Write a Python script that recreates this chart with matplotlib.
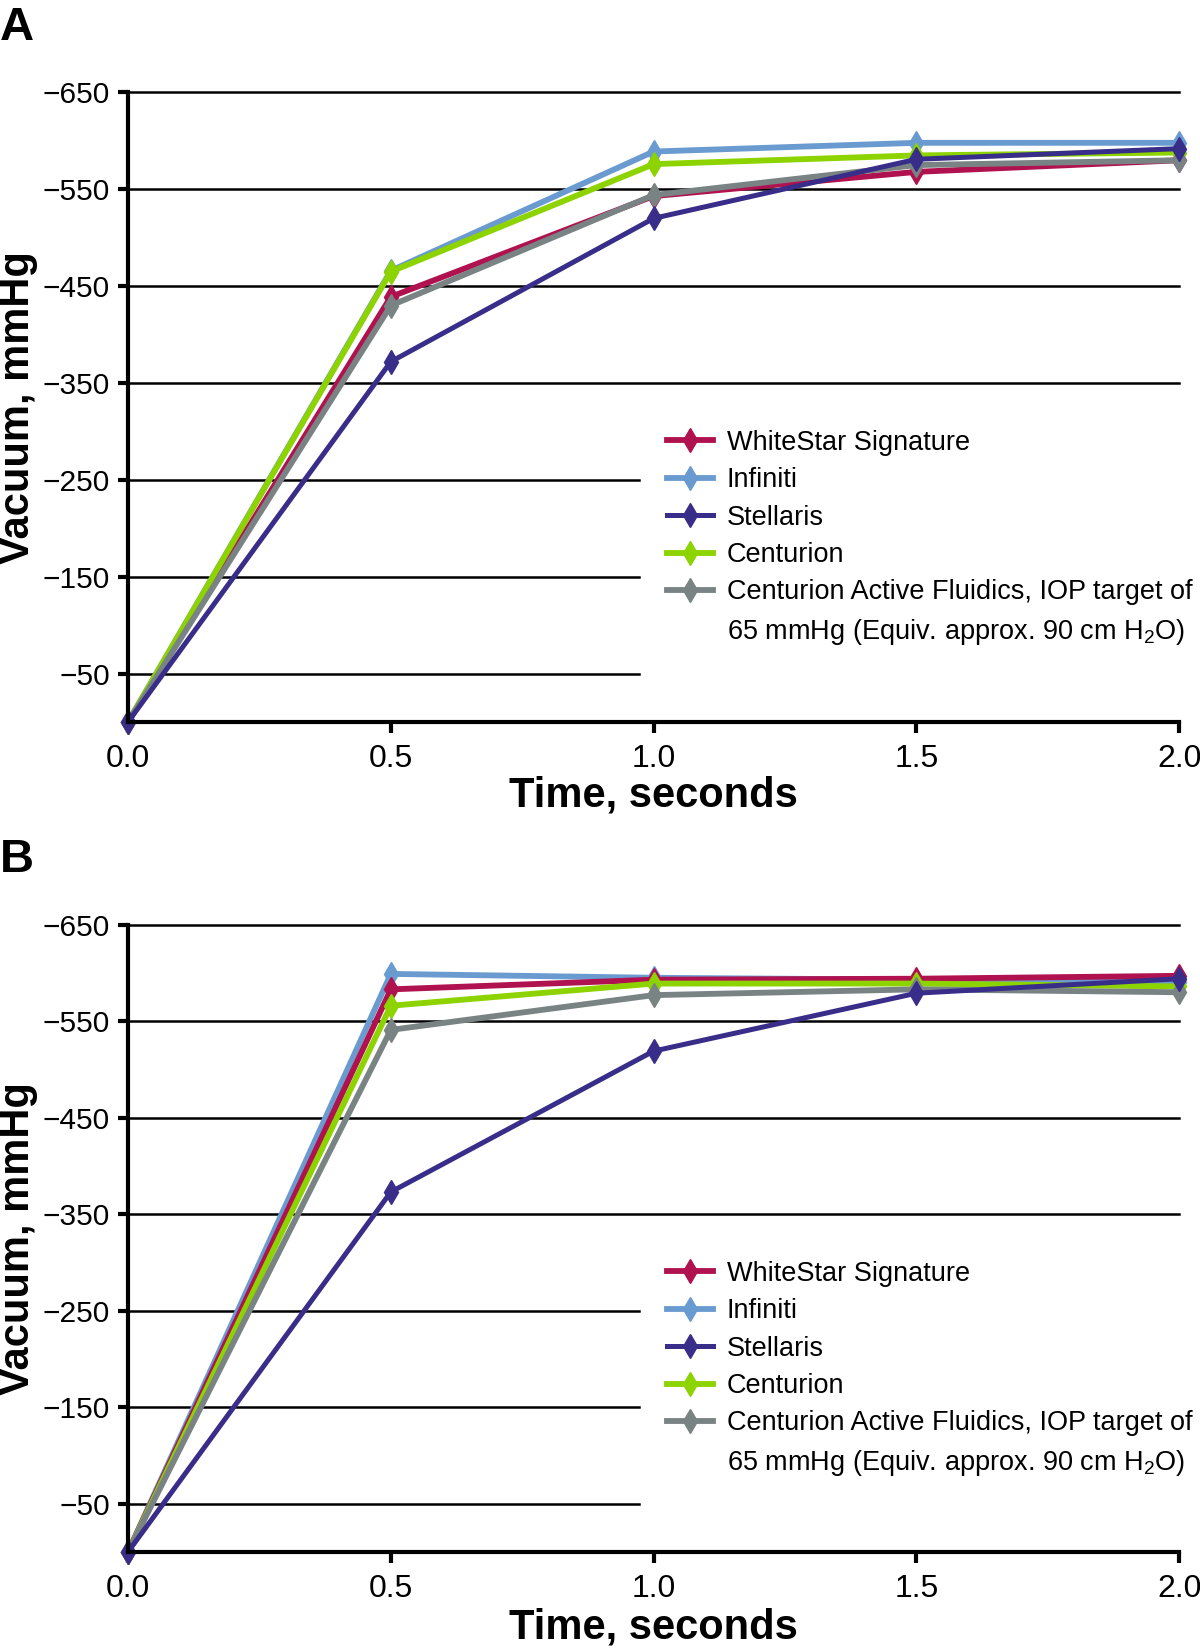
import matplotlib
matplotlib.use("Agg")
import matplotlib.pyplot as plt
from matplotlib.lines import Line2D

plt.rcParams['font.family'] = ['Liberation Sans', 'DejaVu Sans']
plt.rcParams['mathtext.fontset'] = 'custom'
plt.rcParams['mathtext.rm'] = 'Liberation Sans'

# Time points (seconds)
time_s = [0.0, 0.5, 1.0, 1.5, 2.0]

# Panel A vacuum readings (mmHg)
a_whitestar = [0, -439, -543, -568, -580]
a_infiniti = [0, -466, -589, -598, -598]
a_stellaris = [0, -372, -520, -581, -592]
a_centurion = [0, -465, -576, -585, -588]
a_active = [0, -430, -544, -575, -580]

# Panel B vacuum readings (mmHg)
b_whitestar = [0, -583, -593, -594, -597]
b_infiniti = [0, -599, -595, -593, -591]
b_stellaris = [0, -373, -519, -579, -594]
b_centurion = [0, -566, -589, -589, -586]
b_active = [0, -541, -577, -583, -580]

series_names = ['WhiteStar Signature', 'Infiniti', 'Stellaris', 'Centurion',
                'Centurion Active Fluidics, IOP target of']
extra_line = '65 mmHg (Equiv. approx. 90 cm H$_2$O)'
colors = ['#B0124F', '#6A9BD0', '#382D88', '#8CD300', '#7A8384']
zorders = [4, 3, 7, 5, 6]
widths = [4.2, 4.2, 3.6, 4.2, 4.2]

y_ticks = [-650, -550, -450, -350, -250, -150, -50]
x_ticks = [0.0, 0.5, 1.0, 1.5, 2.0]

fig = plt.figure(figsize=(12, 16.48), dpi=100)


def draw_panel(rect, series, letter, letter_y, xlabel_y):
    ax = fig.add_axes(rect)
    ax.set_xlim(0, 2.0)
    ax.set_ylim(0, -650)

    # grid lines; lower ones stop short of the legend
    for yv in y_ticks:
        xmax = 2.0 if yv <= -350 else 0.972
        ax.plot([0, xmax], [yv, yv], color='black', lw=1.8, zorder=1, clip_on=False)

    for vals, name, c, z, w in zip(series, series_names, colors, zorders, widths):
        ax.plot(time_s, vals, color=c, lw=w, marker='d', markersize=12,
                zorder=z, clip_on=False, label=name)

    handles, labels = ax.get_legend_handles_labels()
    handles.append(Line2D([], [], color='none'))
    labels.append(extra_line)
    ax.legend(handles, labels, loc='upper left', bbox_to_anchor=(0.513, 0.464),
              frameon=False, fontsize=19.5, handlelength=1.7, handletextpad=0.5,
              labelspacing=0.42, borderpad=0, borderaxespad=0)

    for side in ['top', 'right']:
        ax.spines[side].set_visible(False)
    for side in ['left', 'bottom']:
        ax.spines[side].set_linewidth(3)
    ax.spines['left'].set_zorder(8)
    ax.spines['bottom'].set_zorder(8)

    ax.set_yticks(y_ticks)
    ax.set_xticks(x_ticks)
    ax.set_xticklabels([f'{v:.1f}' for v in x_ticks])
    ax.tick_params(axis='y', length=7, width=3, labelsize=21.5, pad=6)
    ax.tick_params(axis='x', length=8, width=3, labelsize=23, pad=8)

    ax.set_xlabel('Time, seconds', fontsize=30, fontweight='bold')
    ax.set_ylabel('Vacuum, mmHg', fontsize=30, fontweight='bold')
    ax.xaxis.set_label_coords(0.5, xlabel_y)
    ax.yaxis.set_label_coords(-0.086, 0.5)

    fig.text(0.0, letter_y, letter, fontsize=34, fontweight='bold', va='top')
    return ax


draw_panel([0.1067, 0.5619, 0.876, 0.382],
           [a_whitestar, a_infiniti, a_stellaris, a_centurion, a_active],
           'A', 1 - 6 / 1648, -0.085)
draw_panel([0.1067, 0.0583, 0.876, 0.3806],
           [b_whitestar, b_infiniti, b_stellaris, b_centurion, b_active],
           'B', 1 - 838 / 1648, -0.089)

plt.savefig('out.png', dpi=100)
plt.close()
